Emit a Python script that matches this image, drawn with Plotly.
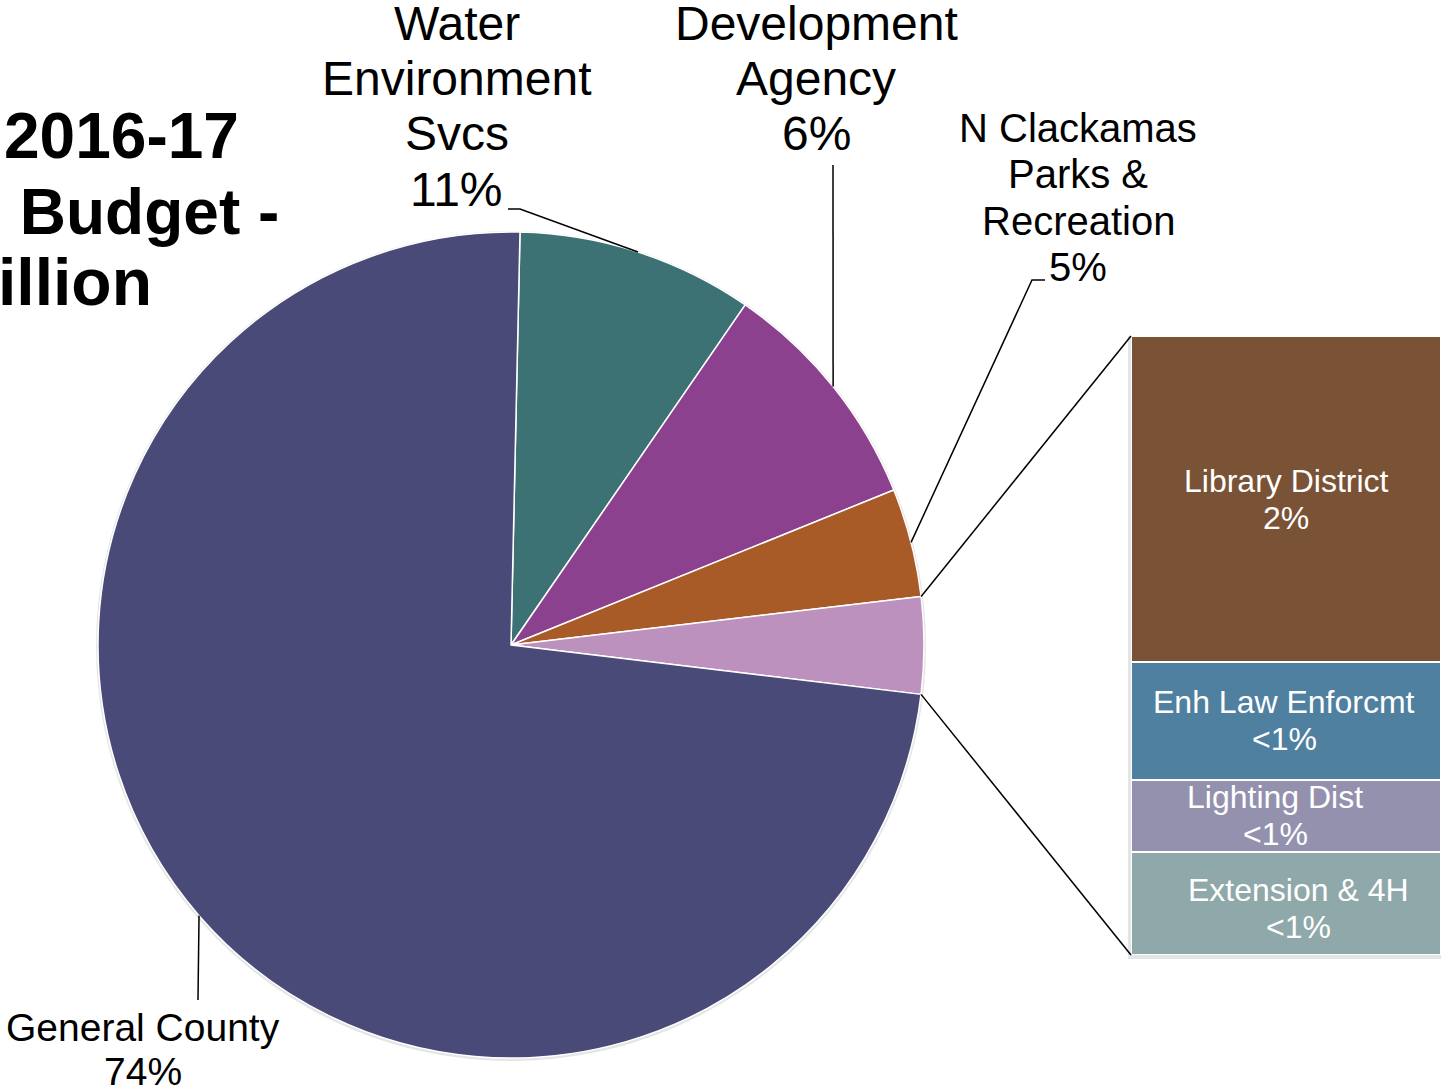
import math
import plotly.graph_objects as go

W, H = 1441, 1091
FONT = "Arial, Liberation Sans, Helvetica, sans-serif"

# ---------------- data ----------------
pie_names = ["Water Environment Svcs", "Development Agency",
             "N Clackamas Parks & Recreation", "Other Districts", "General County"]
pie_values = [9.25, 9.28, 4.25, 3.78, 73.44]          # % of total budget (slice sizes)
pie_colors = ["#3C7274", "#8B418E", "#A85A27", "#BC91BE", "#4A4A79"]
pie_label_text = [["Water", "Environment", "Svcs", "11%"],
                  ["Development", "Agency", "6%"],
                  ["N Clackamas", "Parks &", "Recreation", "5%"],
                  None,
                  ["General County", "74%"]]

bar_names = ["Extension & 4H", "Lighting Dist", "Enh Law Enforcmt", "Library District"]
bar_values = [0.63, 0.44, 0.72, 1.99]                  # breakdown of "Other Districts"
bar_colors = ["#8FA8A9", "#9491AF", "#5080A0", "#7A5236"]
bar_pct_text = ["<1%", "<1%", "<1%", "2%"]

title_lines = ["2016-17", " Budget -", "illion"]

# ---------------- layout constants ----------------
pie_dom_x = [98 / W, 924 / W]
pie_dom_y = [1 - 1058 / H, 1 - 232 / H]
pie_rotation = 1.25
bar_dom_x = [1131 / W, 1.0]
bar_dom_y = [1 - 955 / H, 1 - 336 / H]


def px(x, y):
    return x / W, 1 - y / H


cx = (pie_dom_x[0] + pie_dom_x[1]) / 2 * W
cy = (1 - (pie_dom_y[0] + pie_dom_y[1]) / 2) * H
r = min((pie_dom_x[1] - pie_dom_x[0]) * W, (pie_dom_y[1] - pie_dom_y[0]) * H) / 2


def circ(angle_deg, rad=r):
    a = math.radians(angle_deg)
    return cx + rad * math.sin(a), cy - rad * math.cos(a)


total = sum(pie_values)
starts, ends = [], []
acc = pie_rotation
for v in pie_values:
    starts.append(acc)
    acc += v / total * 360
    ends.append(acc)
mids = [(s + e) / 2 for s, e in zip(starts, ends)]

fig = go.Figure()

fig.add_trace(go.Pie(
    labels=pie_names, values=pie_values, sort=False, direction="clockwise",
    rotation=pie_rotation, textinfo="none", hoverinfo="label+percent",
    marker=dict(colors=pie_colors, line=dict(color="white", width=1.5)),
    domain=dict(x=pie_dom_x, y=pie_dom_y), showlegend=False,
))

for name, v, c in zip(bar_names, bar_values, bar_colors):
    fig.add_trace(go.Bar(
        x=[0], y=[v], width=1, name=name, marker=dict(color=c, line=dict(color="white", width=2)),
        hoverinfo="name+y", showlegend=False,
    ))

shapes = []
# soft shadow around pie
shapes.append(dict(type="circle", xref="paper", yref="paper", layer="below",
                   x0=(cx - r - 2) / W, x1=(cx + r + 2) / W,
                   y0=1 - (cy + r + 3) / H, y1=1 - (cy - r - 1) / H,
                   fillcolor="rgba(0,0,0,0.10)", line=dict(width=0)))
# shadow behind bar
shapes.append(dict(type="rect", xref="paper", yref="paper", layer="below",
                   x0=bar_dom_x[0] - 3 / W, x1=1, y0=bar_dom_y[0] - 4 / H, y1=bar_dom_y[1],
                   fillcolor="rgba(0,0,0,0.10)", line=dict(width=0)))


def path(points):
    d = ""
    for i, (x, y) in enumerate(points):
        X, Y = px(x, y)
        d += ("M" if i == 0 else " L") + f"{X:.5f},{Y:.5f}"
    return dict(type="path", xref="paper", yref="paper", path=d,
                line=dict(color="black", width=1.5))


# leader lines: label-side anchor points, ending at slice mid-angle on the rim
leader_points = {0: [(508, 209), (520, 209)],
                 1: [(833, 165)],
                 2: [(1045, 280), (1032, 280)],
                 4: [(198, 1000)]}
for i, pts in leader_points.items():
    shapes.append(path(pts + [circ(mids[i])]))

# connectors from "Other" slice to the bar
other = 3
bar_left = bar_dom_x[0] * W
bar_top = (1 - bar_dom_y[1]) * H
bar_bot = (1 - bar_dom_y[0]) * H
shapes.append(path([circ(starts[other]), (bar_left, bar_top)]))
shapes.append(path([circ(ends[other]), (bar_left, bar_bot)]))

annotations = []


def add_lines(lines, x, y0, spacing, size, color="black", bold=False, xanchor="center"):
    for k, t in enumerate(lines):
        X, Y = px(x, y0 + k * spacing)
        txt = f"<b>{t}</b>" if bold else t
        annotations.append(dict(text=txt, x=X, y=Y, xref="paper", yref="paper",
                                xanchor=xanchor, yanchor="middle", showarrow=False,
                                font=dict(family=FONT, size=size, color=color)))


label_pos = {0: (457, 23, 55.5, 48), 1: (816, 23, 55.5, 48),
             2: (1078, 128, 46.3, 40), 4: (143, 1027, 44, 39)}
for i, (x, y0, sp, sz) in label_pos.items():
    add_lines(pie_label_text[i], x, y0, sp, sz)

bar_label_pos = [(1298, 890), (1275, 797), (1284, 702), (1286, 481)]
for name, pct, (x, y) in zip(bar_names, bar_pct_text, bar_label_pos):
    add_lines([name, pct], x, y, 37, 32, color="white")

# title (cropped at left edge in the original)
add_lines([title_lines[0]], 121, 136, 0, 64, bold=True)
add_lines([title_lines[1]], 140, 212, 0, 64, bold=True)
add_lines([title_lines[2]], -4, 282, 0, 66, bold=True, xanchor="left")

fig.update_layout(
    width=W, height=H, margin=dict(l=0, r=0, t=0, b=0),
    paper_bgcolor="white", plot_bgcolor="rgba(0,0,0,0)",
    barmode="stack", bargap=0,
    xaxis=dict(domain=bar_dom_x, range=[-0.5, 0.5], visible=False, fixedrange=True),
    yaxis=dict(domain=bar_dom_y, range=[0, sum(bar_values)], visible=False, fixedrange=True),
    shapes=shapes, annotations=annotations, showlegend=False,
)

fig.write_html("out.html")
